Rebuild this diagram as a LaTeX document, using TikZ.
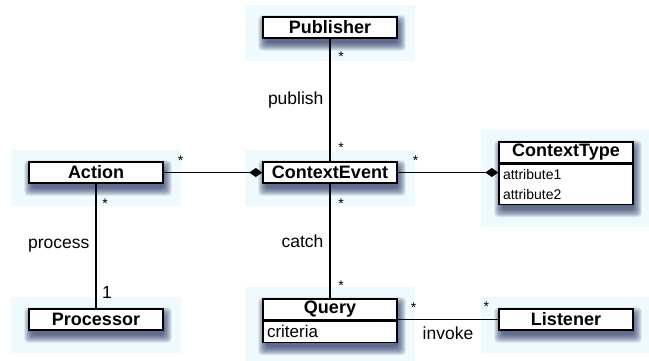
\documentclass[tikz,border=0pt]{standalone}
\usepackage{fontspec}
\setmainfont{Liberation Sans}
\usetikzlibrary{positioning}
\usetikzlibrary{calc}
\usetikzlibrary{backgrounds}
\usetikzlibrary{arrows.meta}

\definecolor{selbg}{RGB}{239,250,255}
\definecolor{shadowcol}{RGB}{35,45,95}

\tikzset{
  cls/.style={draw, line width=1.4pt, fill=white, minimum width=134pt, minimum height=21pt,
    inner sep=0pt, font=\fontsize{18}{20}\selectfont\bfseries},
  attr/.style={draw, line width=1.4pt, fill=white, text width=126pt, inner xsep=4pt,
    inner ysep=0pt, align=left, font=\fontsize{14}{20}\selectfont},
  assoc/.style={line width=1.2pt},
  comp/.style={line width=1.2pt, -{Diamond[length=13pt,width=9pt]}},
  role/.style={font=\fontsize{17.5}{20}\selectfont},
  mult/.style={font=\fontsize{14}{14}\selectfont, inner sep=0pt},
}

\begin{document}
\begin{tikzpicture}[x=1pt, y=-1pt]
\useasboundingbox (0,0) rectangle (649,360);
% classes
\node[cls] (pub) at (330,27.5) {Publisher};
\node[cls] (act) at (96,172.5) {Action};
\node[cls] (ce) at (330,172.5) {ContextEvent};
\node[cls] (ctype) at (566,152.5) {ContextType};
\node[attr, minimum height=40pt, below=0pt of ctype] (ctypeattr) {attribute1\\attribute2};
\node[cls] (proc) at (96,319.5) {Processor};
\node[cls] (qry) at (330,309.5) {Query};
\node[attr, minimum height=21pt, below=0pt of qry, font=\fontsize{17}{20}\selectfont] (qryattr) {criteria};
\node[cls] (lst) at (566,319.5) {Listener};

% associations
\draw[assoc] (pub) -- (ce);
\draw[comp] (act) -- (ce);
\draw[comp] (ce) -- (ce -| ctypeattr.west);
\draw[assoc] (ce) -- (qry);
\draw[assoc] (act) -- (proc);
\draw[assoc] (lst) -- (lst -| qry.east);

% role names
\node[role, left=3pt] (publbl) at ($(pub.south)!0.5!(ce.north)$) {publish};
\node[role, left=3pt] (catchlbl) at ($(ce.south)!0.5!(qry.north)$) {catch};
\node[role, left=3pt] (proclbl) at ($(act.south)!0.5!(proc.north)$) {process};
\node[role, below=4pt] (invlbl) at ($(lst -| qry.east)!0.5!(lst.west)$) {invoke};

% multiplicities
\node[mult] (m1) at ($(pub.south)+(11,18)$) {*};
\node[mult] (m2) at ($(ce.north)+(11,-14)$) {*};
\node[mult] (m3) at ($(ce.south)+(11,20)$) {*};
\node[mult] (m4) at ($(qry.north)+(11,-13)$) {*};
\node[mult] (m5) at ($(act.east)+(17,-12)$) {*};
\node[mult] (m6) at ($(ce.east)+(18,-12)$) {*};
\node[mult] (m7) at ($(act.south)+(9,20)$) {*};
\node[role] (m8) at ($(proc.north)+(11,-16)$) {1};
\node[mult] (m9) at ($(qry.east |- lst)+(16,-12)$) {*};
\node[mult] (m10) at ($(lst.west)+(-12,-13)$) {*};

% selection areas and shadows
\begin{pgfonlayer}{background}
\foreach \t/\b in {pub/pub, act/act, ce/ce, ctype/ctypeattr, proc/proc, qry/qryattr, lst/lst}{
  \fill[selbg] ($(\t.north west)+(-17,-11)$) rectangle ($(\b.south east)+(17,22)$);
  \foreach \e in {6,5,...,-2}
    \fill[shadowcol, opacity=0.12, rounded corners=4pt]
      ($(\t.north west)+(2-\e,5-\e)$) rectangle ($(\b.south east)+(2+\e,6+\e)$);
}
\end{pgfonlayer}
\end{tikzpicture}
\end{document}
